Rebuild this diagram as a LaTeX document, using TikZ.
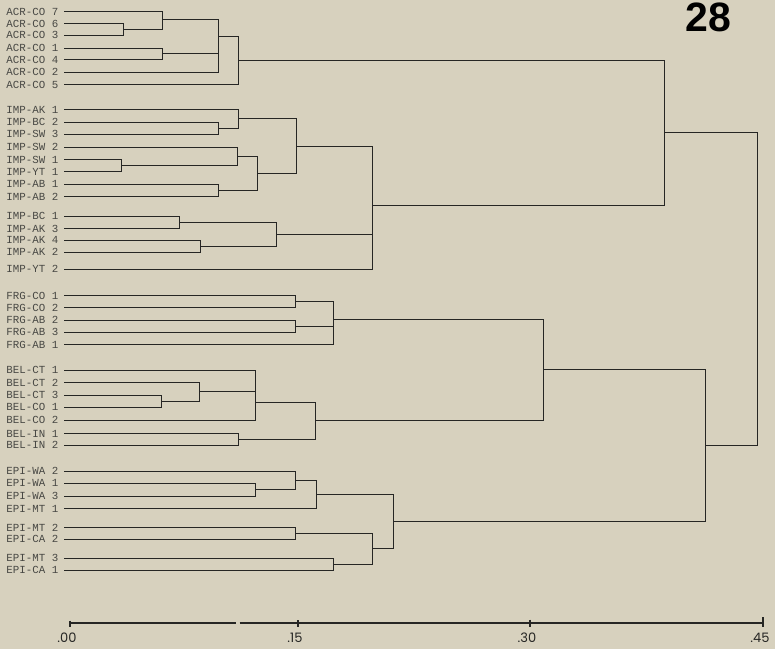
\documentclass[tikz,border=0pt]{standalone}
\usepackage{fontspec}
\setmainfont{Liberation Sans}
\newfontfamily\leaffont{Liberation Mono}
\newfontfamily\axisfont{Poppins}
\usetikzlibrary{positioning}
\definecolor{paper}{RGB}{215,209,190}
\definecolor{ink}{RGB}{38,38,36}
\definecolor{typeink}{RGB}{72,72,68}

\begin{document}
\begin{tikzpicture}[x=1pt, y=-1pt,
  branch/.style={draw=ink, line width=0.85pt},
  leaf/.style={anchor=east, inner sep=0pt, text=typeink,
    font=\leaffont\fontsize{10.8}{12}\selectfont},
  axisline/.style={draw=ink, line width=1.2pt},
  ticklab/.style={inner sep=0pt, text=ink, font=\axisfont\fontsize{13}{15}\selectfont}]
  \useasboundingbox[fill=paper] (0,0) rectangle (775,649);

  % Leaves: name / y / label
  \foreach \nm/\yy/\lab in {acr7/11.5/ACR-CO 7, acr6/23.5/ACR-CO 6, acr3/35/ACR-CO 3,
      acr1/48/ACR-CO 1, acr4/59.5/ACR-CO 4, acr2/72/ACR-CO 2, acr5/84.5/ACR-CO 5,
      impak1/109.5/IMP-AK 1, impbc2/122/IMP-BC 2, impsw3/134/IMP-SW 3,
      impsw2/147/IMP-SW 2, impsw1/159.5/IMP-SW 1, impyt1/171.5/IMP-YT 1,
      impab1/184/IMP-AB 1, impab2/196.5/IMP-AB 2,
      impbc1/216/IMP-BC 1, impak3/228.5/IMP-AK 3, impak4/240/IMP-AK 4, impak2/252/IMP-AK 2,
      impyt2/269/IMP-YT 2,
      frgco1/295.5/FRG-CO 1, frgco2/307.5/FRG-CO 2, frgab2/320/FRG-AB 2,
      frgab3/332/FRG-AB 3, frgab1/344.5/FRG-AB 1,
      belct1/370/BEL-CT 1, belct2/382.5/BEL-CT 2, belct3/395/BEL-CT 3, belco1/407/BEL-CO 1,
      belco2/420/BEL-CO 2, belin1/433.5/BEL-IN 1, belin2/445/BEL-IN 2,
      epiwa2/471/EPI-WA 2, epiwa1/483/EPI-WA 1, epiwa3/496/EPI-WA 3, epimt1/508.5/EPI-MT 1,
      epimt2/527.5/EPI-MT 2, epica2/539/EPI-CA 2,
      epimt3/558/EPI-MT 3, epica1/570/EPI-CA 1}{
    \coordinate (\nm) at (64,\yy);
    \node[leaf] (\nm-lab) at (58.5,\yy) {\lab};
  }

  % Junctions: name / x / y
  \foreach \nm/\xx/\yy in {acr63/123/29.3, acr763/162/19, acr14/162/53, acr2j/218/36,
      acrall/238/60,
      impbs/218/128, impakbs/238/118.8, impsy/121/165.5, impsw/237/156.3, impab/218/190.3,
      impswab/257/173.3, impup/296/146, impba/179/222.3, impaa/200/246, impdn/276/234,
      impall/372/205, acrimp/664/132.5,
      frgco/295/301.5, frgab/295/326, frgall/333/319,
      belcc/161/401, belct/199/391.8, belctco/255/402, belin/238/439.3, belall/315/420.6,
      frgbel/543/369.8,
      epiwa13/255/489.5, epiwa/295/480.3, epiwm/316/494.4, epimc2/295/533.3,
      epimc1/333/564, epidn/372/548.6, epiall/393/521.5,
      frgbelepi/705/445.6, root/757/289}{
    \coordinate (\nm) at (\xx,\yy);
  }

  % Branches: child / parent
  \foreach \ch/\pa in {acr6/acr63, acr3/acr63, acr7/acr763, acr63/acr763, acr1/acr14,
      acr4/acr14, acr763/acr2j, acr14/acr2j, acr2/acr2j, acr2j/acrall, acr5/acrall,
      impbc2/impbs, impsw3/impbs, impak1/impakbs, impbs/impakbs, impsw1/impsy,
      impyt1/impsy, impsw2/impsw, impsy/impsw, impab1/impab, impab2/impab,
      impsw/impswab, impab/impswab, impakbs/impup, impswab/impup, impbc1/impba,
      impak3/impba, impak4/impaa, impak2/impaa, impba/impdn, impaa/impdn,
      impup/impall, impdn/impall, impyt2/impall,
      acrall/acrimp, impall/acrimp,
      frgco1/frgco, frgco2/frgco, frgab2/frgab, frgab3/frgab, frgco/frgall,
      frgab/frgall, frgab1/frgall,
      belct3/belcc, belco1/belcc, belct2/belct, belcc/belct, belct1/belctco,
      belct/belctco, belco2/belctco, belin1/belin, belin2/belin, belctco/belall,
      belin/belall,
      frgall/frgbel, belall/frgbel,
      epiwa1/epiwa13, epiwa3/epiwa13, epiwa2/epiwa, epiwa13/epiwa, epiwa/epiwm,
      epimt1/epiwm, epimt2/epimc2, epica2/epimc2, epimt3/epimc1, epica1/epimc1,
      epimc2/epidn, epimc1/epidn, epiwm/epiall, epidn/epiall,
      frgbel/frgbelepi, epiall/frgbelepi,
      acrimp/root, frgbelepi/root}{
    \draw[branch] (\ch) -| (\pa);
  }

  % Distance axis
  \coordinate (ax0) at (70,623);
  \coordinate (gapL) at (236,623);
  \coordinate (gapR) at (239.5,623);
  \coordinate (ax45) at (763,623);
  \draw[axisline] (ax0) -- (gapL) (gapR) -- (ax45);
  \foreach \tx/\ty/\lab in {70/620.5/.00, 298/620/.15, 530/619.5/.30, 763/617/.45}{
    \draw[axisline] (\tx,\ty) -- (\tx,627);
    \node[ticklab] (tick\tx) at (\tx-3,638) {\lab};
  }

  % Plate number
  \node[font=\bfseries\fontsize{41}{41}\selectfont, text=black, inner sep=0pt]
    (plate) at (708.5,17.5) {28};
\end{tikzpicture}
\end{document}
